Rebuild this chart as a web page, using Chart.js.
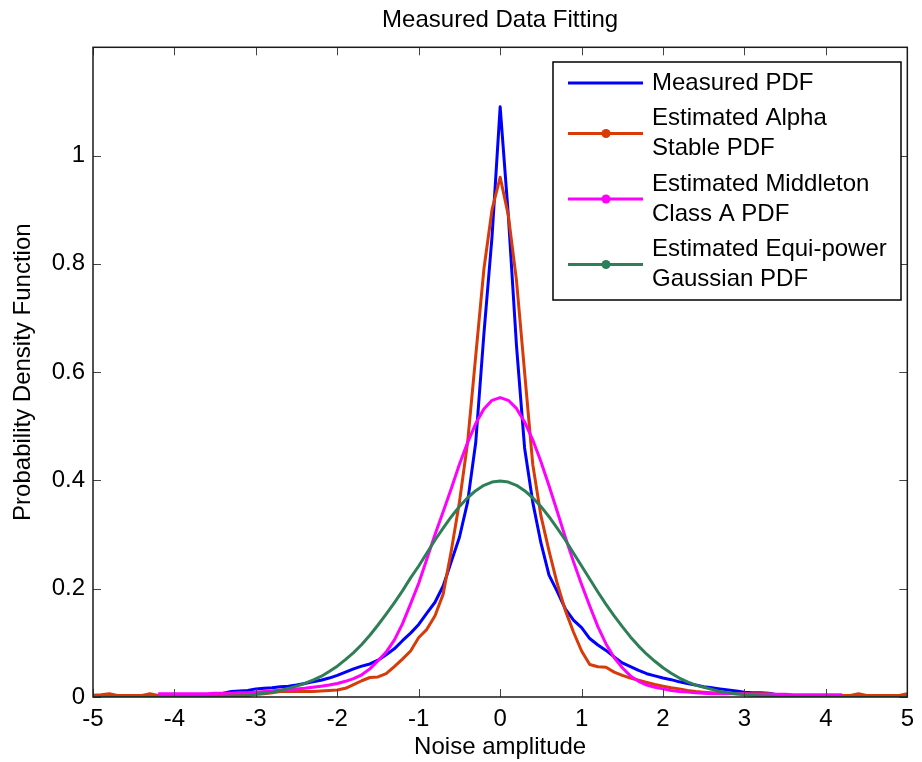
<!DOCTYPE html>
<html>
<head>
<meta charset="utf-8">
<title>Measured Data Fitting</title>
<script src="https://cdn.jsdelivr.net/npm/chart.js@4/dist/chart.umd.min.js"></script>
<style>
  html, body { margin: 0; padding: 0; background: #fff; }
  canvas { display: block; }
</style>
</head>
<body>
<canvas id="pdfChart" width="922" height="762"></canvas>
<script>
// noise amplitude sample positions
var xValues = [
  -5.0, -4.9, -4.8, -4.7, -4.6, -4.5, -4.4, -4.3, -4.2, -4.1,
  -4.0, -3.9, -3.8, -3.7, -3.6, -3.5, -3.4, -3.3, -3.2, -3.1,
  -3.0, -2.9, -2.8, -2.7, -2.6, -2.5, -2.4, -2.3, -2.2, -2.1,
  -2.0, -1.9, -1.8, -1.7, -1.6, -1.5, -1.4, -1.3, -1.2, -1.1,
  -1.0, -0.9, -0.8, -0.7, -0.6, -0.5, -0.4, -0.3, -0.2, -0.1,
  0.0, 0.1, 0.2, 0.3, 0.4, 0.5, 0.6, 0.7, 0.8, 0.9,
  1.0, 1.1, 1.2, 1.3, 1.4, 1.5, 1.6, 1.7, 1.8, 1.9,
  2.0, 2.1, 2.2, 2.3, 2.4, 2.5, 2.6, 2.7, 2.8, 2.9,
  3.0, 3.1, 3.2, 3.3, 3.4, 3.5, 3.6, 3.7, 3.8, 3.9,
  4.0, 4.1, 4.2, 4.3, 4.4, 4.5, 4.6, 4.7, 4.8, 4.9,
  5.0
];

var measuredPdf = [
  0.003, 0.003, 0.003, 0.003, 0.003, 0.003, 0.003, 0.003, 0.003, 0.003,
  0.003, 0.003, 0.003, 0.003, 0.003, 0.005, 0.007, 0.010, 0.011, 0.012,
  0.015, 0.016, 0.017, 0.019, 0.020, 0.022, 0.025, 0.028, 0.031, 0.035,
  0.040, 0.046, 0.052, 0.057, 0.061, 0.068, 0.078, 0.089, 0.104, 0.118,
  0.134, 0.155, 0.175, 0.205, 0.250, 0.295, 0.360, 0.470, 0.670, 0.850,
  1.090, 0.890, 0.650, 0.460, 0.360, 0.285, 0.225, 0.195, 0.163, 0.142,
  0.128, 0.108, 0.096, 0.086, 0.074, 0.063, 0.056, 0.049, 0.043, 0.039,
  0.035, 0.032, 0.028, 0.025, 0.022, 0.019, 0.017, 0.015, 0.013, 0.011,
  0.009, 0.008, 0.008, 0.007, 0.004, 0.003, 0.003, 0.003, 0.003, 0.003,
  0.003, 0.003, 0.003, 0.003, 0.003, 0.003, 0.003, 0.003, 0.003, 0.003,
  0.003
];

var alphaStablePdf = [
  0.003, 0.004, 0.006, 0.003, 0.003, 0.003, 0.003, 0.006, 0.003, 0.003,
  0.003, 0.003, 0.003, 0.003, 0.003, 0.003, 0.003, 0.003, 0.003, 0.003,
  0.005, 0.006, 0.008, 0.010, 0.010, 0.010, 0.010, 0.010, 0.011, 0.012,
  0.013, 0.016, 0.023, 0.030, 0.036, 0.037, 0.043, 0.056, 0.070, 0.085,
  0.110, 0.125, 0.150, 0.190, 0.270, 0.360, 0.470, 0.630, 0.790, 0.900,
  0.960, 0.890, 0.770, 0.600, 0.430, 0.335, 0.270, 0.210, 0.160, 0.120,
  0.085, 0.060, 0.056, 0.055, 0.046, 0.040, 0.035, 0.031, 0.027, 0.023,
  0.020, 0.017, 0.015, 0.012, 0.010, 0.009, 0.008, 0.007, 0.007, 0.006,
  0.006, 0.006, 0.006, 0.006, 0.003, 0.003, 0.003, 0.003, 0.003, 0.003,
  0.003, 0.003, 0.003, 0.003, 0.006, 0.003, 0.003, 0.003, 0.003, 0.003,
  0.006
];

var middletonPdf = [
  null, null, null, null, null, null, null, null, 0.006, 0.006,
  0.006, 0.006, 0.006, 0.006, 0.006, 0.007, 0.007, 0.007, 0.008, 0.008,
  0.009, 0.010, 0.011, 0.013, 0.014, 0.015, 0.016, 0.018, 0.020, 0.022,
  0.025, 0.029, 0.034, 0.041, 0.052, 0.067, 0.083, 0.105, 0.135, 0.172,
  0.210, 0.255, 0.300, 0.342, 0.385, 0.430, 0.470, 0.505, 0.532, 0.548,
  0.553, 0.548, 0.533, 0.508, 0.475, 0.435, 0.390, 0.343, 0.295, 0.250,
  0.208, 0.168, 0.130, 0.098, 0.073, 0.054, 0.039, 0.029, 0.022, 0.018,
  0.015, 0.012, 0.010, 0.009, 0.008, 0.007, 0.006, 0.006, 0.006, 0.006,
  0.006, 0.005, 0.005, 0.005, 0.005, 0.005, 0.004, 0.004, 0.004, 0.004,
  0.004, 0.004, 0.004, null, null, null, null, null, null, null,
  null
];

var gaussianPdf = [
  0.001, 0.001, 0.001, 0.001, 0.001, 0.001, 0.001, 0.001, 0.001, 0.001,
  0.001, 0.001, 0.001, 0.001, 0.001, 0.001, 0.001, 0.002, 0.002, 0.003,
  0.005, 0.007, 0.009, 0.012, 0.016, 0.020, 0.025, 0.031, 0.038, 0.047,
  0.057, 0.069, 0.082, 0.097, 0.114, 0.133, 0.153, 0.174, 0.196, 0.220,
  0.242, 0.266, 0.290, 0.312, 0.333, 0.352, 0.368, 0.381, 0.391, 0.397,
  0.399, 0.397, 0.391, 0.381, 0.368, 0.352, 0.333, 0.312, 0.290, 0.266,
  0.242, 0.218, 0.194, 0.171, 0.150, 0.130, 0.111, 0.094, 0.079, 0.066,
  0.054, 0.044, 0.035, 0.028, 0.022, 0.018, 0.014, 0.010, 0.008, 0.006,
  0.004, 0.003, 0.002, 0.002, 0.001, 0.001, 0.001, 0.001, 0.001, 0.001,
  0.001, 0.001, 0.001, 0.001, 0.001, 0.001, 0.001, 0.001, 0.001, 0.001,
  0.001
];

var seriesLabels = [
  'Measured PDF',
  'Estimated Alpha\nStable PDF',
  'Estimated Middleton\nClass A PDF',
  'Estimated Equi-power\nGaussian PDF'
];

var xTicks = [-5, -4, -3, -2, -1, 0, 1, 2, 3, 4, 5];
var yTicks = [0, 0.2, 0.4, 0.6, 0.8, 1];

function toPoints(ys) {
  return xValues.map(function(x, i) { return { x: x, y: ys[i] }; });
}

Chart.defaults.font.family = "'Liberation Sans', Arial, Helvetica, sans-serif";
Chart.defaults.color = '#000';

// MATLAB style box, inward ticks and legend
var matlabFrame = {
  id: 'matlabFrame',
  afterDatasetsDraw: function(chart) {
    var c = chart.ctx;
    var a = chart.chartArea;
    var xs = chart.scales.x;
    var ys = chart.scales.y;
    c.save();
    c.strokeStyle = '#444';
    c.lineWidth = 1;
    c.beginPath();
    xTicks.forEach(function(v) {
      var p = Math.round(xs.getPixelForValue(v)) + 0.5;
      c.moveTo(p, a.bottom); c.lineTo(p, a.bottom - 8);
      c.moveTo(p, a.top); c.lineTo(p, a.top + 8);
    });
    yTicks.forEach(function(v) {
      var p = Math.round(ys.getPixelForValue(v)) + 0.5;
      c.moveTo(a.left, p); c.lineTo(a.left + 8, p);
      c.moveTo(a.right, p); c.lineTo(a.right - 8, p);
    });
    c.stroke();
    c.strokeStyle = '#1a1a1a';
    c.lineWidth = 1.5;
    c.strokeRect(a.left, a.top, a.right - a.left, a.bottom - a.top);

    // legend
    var lx = 553, ly = 62, lw = 348, lh = 238;
    c.fillStyle = '#fff';
    c.fillRect(lx, ly, lw, lh);
    c.strokeStyle = '#000';
    c.lineWidth = 1.5;
    c.strokeRect(lx, ly, lw, lh);
    c.font = "24px 'Liberation Sans', Arial, sans-serif";
    c.textBaseline = 'middle';
    c.textAlign = 'left';
    var y = ly + 21;
    chart.data.datasets.forEach(function(ds) {
      var lines = ds.label.split('\n');
      var mid = y + (lines.length - 1) * 15;
      c.strokeStyle = ds.borderColor;
      c.lineWidth = 3;
      c.beginPath();
      c.moveTo(568, mid); c.lineTo(643, mid);
      c.stroke();
      if (ds.legendDot) {
        c.fillStyle = ds.borderColor;
        c.beginPath();
        c.arc(606, mid, 4.5, 0, Math.PI * 2);
        c.fill();
      }
      c.fillStyle = '#000';
      lines.forEach(function(t, k) { c.fillText(t, 652, y + k * 30); });
      y += (lines.length - 1) * 30 + 35.5;
    });
    c.restore();
  }
};

var ctx = document.getElementById('pdfChart').getContext('2d');
var myChart = new Chart(ctx, {
  type: 'line',
  data: {
    datasets: [{
      label: seriesLabels[0],
      data: toPoints(measuredPdf),
      borderColor: '#0000ff',
      order: 4,
      legendDot: false
    }, {
      label: seriesLabels[1],
      data: toPoints(alphaStablePdf),
      borderColor: '#d83a08',
      order: 3,
      legendDot: true
    }, {
      label: seriesLabels[2],
      data: toPoints(middletonPdf),
      borderColor: '#ff00ff',
      order: 2,
      legendDot: true
    }, {
      label: seriesLabels[3],
      data: toPoints(gaussianPdf),
      borderColor: '#2e7f58',
      order: 1,
      legendDot: true
    }]
  },
  options: {
    responsive: false,
    animation: false,
    events: [],
    datasets: {
      line: {
        borderWidth: 3,
        pointRadius: 0,
        tension: 0,
        fill: false,
        spanGaps: false,
        borderJoinStyle: 'round'
      }
    },
    layout: { padding: { left: 0, right: 10, top: 0, bottom: 0 } },
    plugins: {
      legend: { display: false },
      tooltip: { enabled: false },
      title: {
        display: true,
        fullSize: false,
        text: 'Measured Data Fitting',
        color: '#000',
        font: { size: 24, weight: 'normal' },
        padding: { top: 6, bottom: 12.5 }
      }
    },
    scales: {
      x: {
        type: 'linear',
        min: -5,
        max: 5,
        afterBuildTicks: function(scale) {
          scale.ticks = xTicks.map(function(v) { return { value: v }; });
        },
        afterFit: function(scale) { scale.height = 65; },
        grid: { display: false, drawTicks: false },
        border: { display: false },
        ticks: { font: { size: 24 }, color: '#000', padding: 8, maxRotation: 0 },
        title: {
          display: true,
          text: 'Noise amplitude',
          font: { size: 24 },
          color: '#000',
          padding: { top: 0, bottom: 0 }
        }
      },
      y: {
        type: 'linear',
        min: 0,
        max: 1.2,
        afterBuildTicks: function(scale) {
          scale.ticks = yTicks.map(function(v) { return { value: v }; });
        },
        afterFit: function(scale) { scale.width = 93; },
        grid: { display: false, drawTicks: false },
        border: { display: false },
        ticks: {
          font: { size: 24 },
          color: '#000',
          padding: 8,
          callback: function(v) { return String(+v.toFixed(1)); }
        },
        title: {
          display: true,
          text: 'Probability Density Function',
          font: { size: 24 },
          color: '#000',
          padding: { top: 9, bottom: 0 }
        }
      }
    }
  },
  plugins: [matlabFrame]
});
</script>
</body>
</html>
